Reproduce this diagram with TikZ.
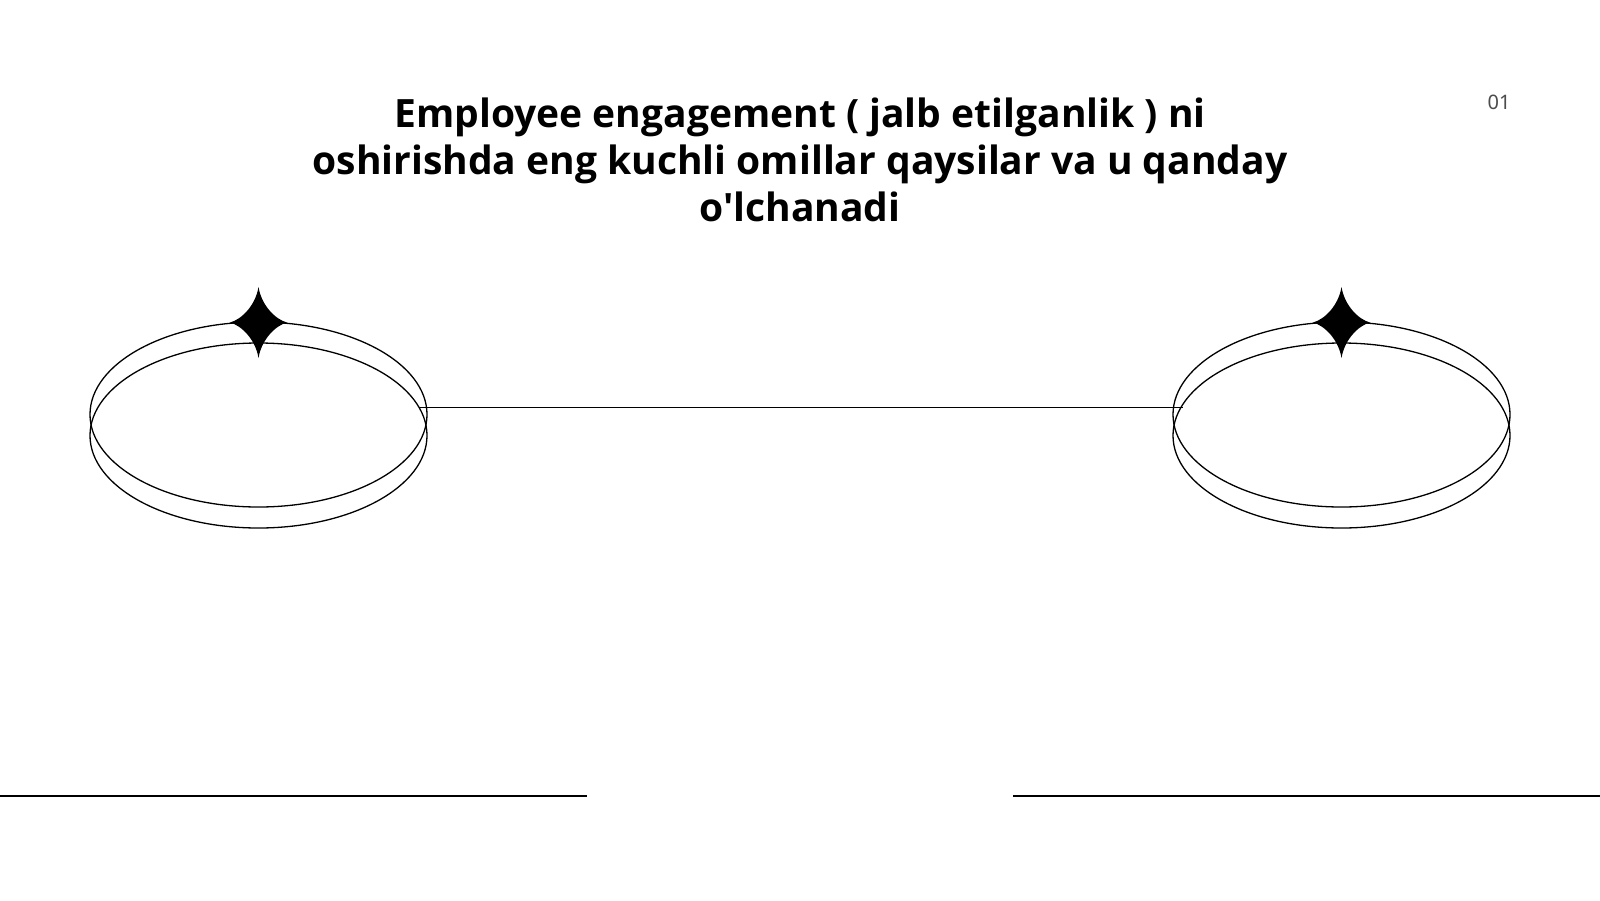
\documentclass[tikz,border=0pt]{standalone}
\usepackage{fontspec}
\setmainfont{Noto Sans}
\newfontfamily\titlefont{Open Sans}
\usetikzlibrary{shapes.geometric}
\tikzset{
  ring/.style={draw=black, line width=1.3pt, ellipse, inner sep=0pt, outer sep=0pt,
               minimum width=337pt, minimum height=185pt},
  rule/.style={draw=black, line width=1.3pt},
  sparkle/.style={fill=black, draw=none},
}
\newcommand{\mysparkle}[2]{%
  \fill[sparkle] (#1,#2-35.5) .. controls (#1+3,#2-17) and (#1+17,#2-3) .. (#1+28.5,#2)
     .. controls (#1+17,#2+3) and (#1+3,#2+17) .. (#1,#2+35.5)
     .. controls (#1-3,#2+17) and (#1-17,#2+3) .. (#1-28.5,#2)
     .. controls (#1-17,#2-3) and (#1-3,#2-17) .. cycle;}
\begin{document}
\begin{tikzpicture}[x=1pt,y=-1pt]
\useasboundingbox[fill=white] (0,0) rectangle (1600,900);
% title
\node[font=\titlefont\bfseries\fontsize{39}{47}\selectfont, align=center, text=black] (title) at (800,160)
 {Employee engagement ( jalb etilganlik ) ni\\oshirishda eng kuchli omillar qaysilar va u qanday\\o'lchanadi};
\node[font=\fontsize{20}{24}\selectfont, text=black!70] (num) at (1499,102) {01};
% left rings
\node[ring] (LA) at (258.5,414.5) {};
\node[ring] (LB) at (258.5,435.5) {};
% right rings
\node[ring] (RA) at (1341.5,414.5) {};
\node[ring] (RB) at (1341.5,435.5) {};
\mysparkle{258.5}{322.5}
\mysparkle{1341.5}{322.5}
% connector
\coordinate (cL) at (LB.10.1);
\draw[rule] (cL) -- (RB.169.9 |- cL);
% bottom rules
\coordinate (bl0) at (0,796);
\coordinate (bl1) at (587,796);
\coordinate (br0) at (1013,796);
\coordinate (br1) at (1600,796);
\draw[rule] (bl0) -- (bl1);
\draw[rule] (br0) -- (br1);
\end{tikzpicture}
\end{document}
